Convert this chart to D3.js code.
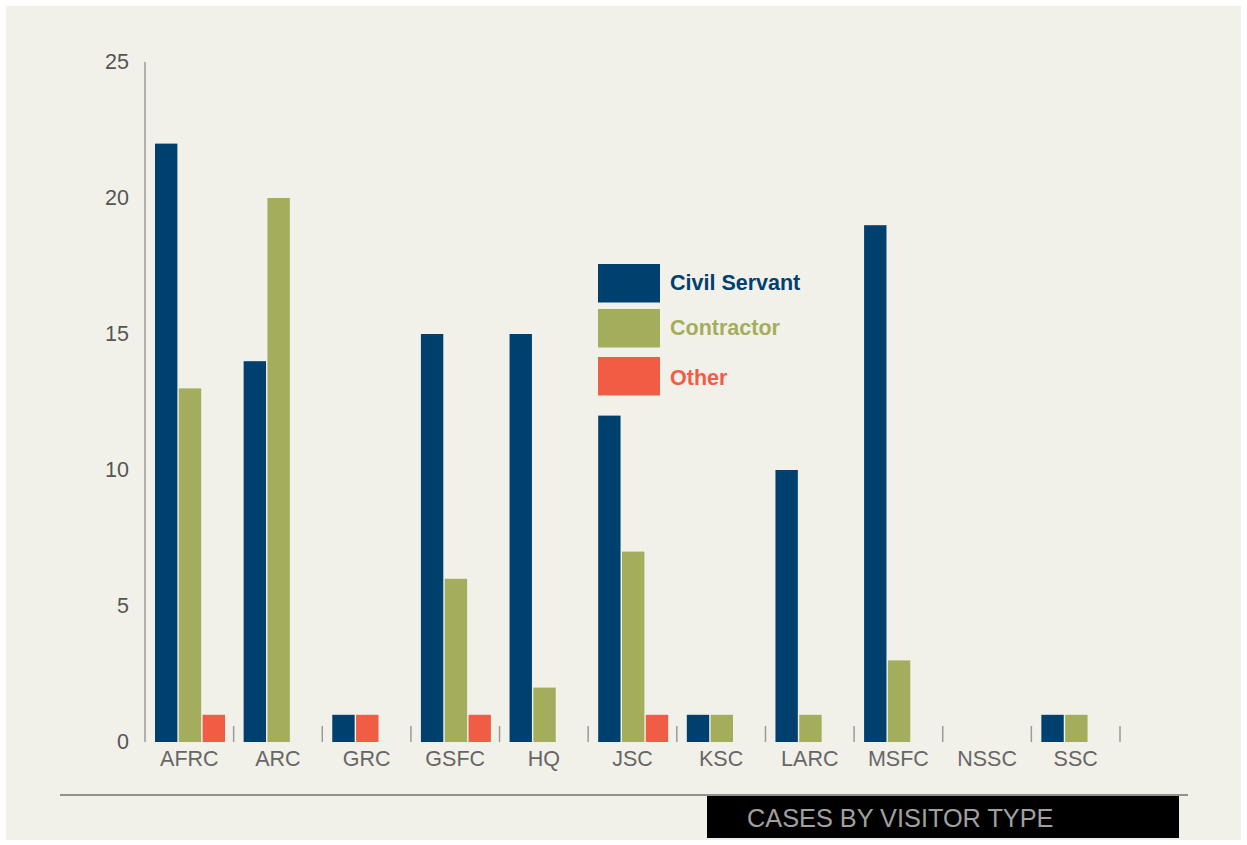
<!DOCTYPE html>
<html>
<head>
<meta charset="utf-8">
<script src="https://cdn.jsdelivr.net/npm/d3@7"></script>
<style>
  body { margin: 0; background: #ffffff; }
  text { font-family: "Liberation Sans", Arial, Helvetica, sans-serif; }
</style>
</head>
<body>
<div id="chart"></div>
<script>
//data
var centers = ["AFRC", "ARC", "GRC", "GSFC", "HQ", "JSC", "KSC", "LARC", "MSFC", "NSSC", "SSC"];
var civilServant = [22, 14, 1, 15, 15, 12, 1, 10, 19, 0, 1];
var contractor = [13, 20, 0, 6, 2, 7, 1, 1, 3, 0, 1];
var other = [1, 0, 1, 1, 0, 1, 0, 0, 0, 0, 0];
var seriesNames = ["Civil Servant", "Contractor", "Other"];
var yTicks = [0, 5, 10, 15, 20, 25];
var title = "CASES BY VISITOR TYPE";

var colors = ["#00406f", "#a4ad5c", "#f15d44"];
var width = 1247, height = 845;

var svg = d3.select("#chart")
  .append("svg")
  .attr("width", width)
  .attr("height", height);

//beige panel with a thin white edge
svg.append("rect")
  .attr("x", 6).attr("y", 6)
  .attr("width", width - 12).attr("height", height - 11)
  .attr("fill", "#f2f1e9");

var x = d3.scaleBand()
  .domain(centers)
  .range([145, 1120])
  .padding(0);

//bars inside a group are packed, empty ones are skipped
var slot = d3.scaleBand()
  .domain([0, 1, 2])
  .range([10, 80])
  .paddingInner(0.06);

var y = d3.scaleLinear()
  .domain([0, 25])
  .range([742, 62]);

var series = [civilServant, contractor, other];
var bars = [];
centers.forEach(function(c, i) {
  var k = 0;
  series.forEach(function(s, j) {
    if (s[i] > 0) {
      bars.push({ center: c, value: s[i], type: j, slot: k });
      k++;
    }
  });
});

svg.selectAll("rect.bar")
  .data(bars)
  .enter()
  .append("rect")
  .attr("class", "bar")
  .attr("x", function(d) { return x(d.center) + slot(d.slot); })
  .attr("width", slot.bandwidth())
  .attr("y", function(d) { return y(d.value); })
  .attr("height", function(d) { return y(0) - y(d.value); })
  .attr("fill", function(d) { return colors[d.type]; });

//y-axis line and labels
svg.append("line")
  .attr("x1", 145).attr("x2", 145)
  .attr("y1", y(25)).attr("y2", y(0))
  .attr("stroke", "#9a9a9a")
  .attr("stroke-width", 1.5);

svg.selectAll("text.ytick")
  .data(yTicks)
  .enter()
  .append("text")
  .attr("class", "ytick")
  .attr("x", 129)
  .attr("y", function(d) { return y(d) - 1; })
  .attr("dy", "0.35em")
  .attr("text-anchor", "end")
  .attr("font-size", 21.5)
  .attr("fill", "#555")
  .text(function(d) { return d; });

//small separators between the groups
svg.selectAll("line.sep")
  .data(centers)
  .enter()
  .append("line")
  .attr("class", "sep")
  .attr("x1", function(d) { return x(d) + x.bandwidth(); })
  .attr("x2", function(d) { return x(d) + x.bandwidth(); })
  .attr("y1", 726).attr("y2", 742)
  .attr("stroke", "#9a9a9a")
  .attr("stroke-width", 1.5);

svg.selectAll("text.xlabel")
  .data(centers)
  .enter()
  .append("text")
  .attr("class", "xlabel")
  .attr("x", function(d) { return x(d) + x.bandwidth() / 2; })
  .attr("y", 766)
  .attr("text-anchor", "middle")
  .attr("font-size", 21.5)
  .attr("fill", "#666")
  .text(function(d) { return d; });

//legend
var legend = svg.selectAll("g.legend")
  .data(seriesNames)
  .enter()
  .append("g")
  .attr("class", "legend")
  .attr("transform", function(d, i) { return "translate(598," + [264, 309, 357][i] + ")"; });

legend.append("rect")
  .attr("width", 62)
  .attr("height", 38.5)
  .attr("fill", function(d, i) { return colors[i]; });

legend.append("text")
  .attr("x", 72)
  .attr("y", function(d, i) { return i == 2 ? 28 : 26; })
  .attr("font-size", 21.5)
  .attr("font-weight", "bold")
  .attr("fill", function(d, i) { return colors[i]; })
  .text(function(d) { return d; });

//footer rule and title box
svg.append("line")
  .attr("x1", 60).attr("x2", 1188)
  .attr("y1", 795).attr("y2", 795)
  .attr("stroke", "#707070")
  .attr("stroke-width", 1.5);

svg.append("rect")
  .attr("x", 707).attr("y", 796)
  .attr("width", 472).attr("height", 42)
  .attr("fill", "#000");

svg.append("text")
  .attr("x", 747)
  .attr("y", 827)
  .attr("font-size", 25.3)
  .attr("fill", "#a0a0a0")
  .text(title);
</script>
</body>
</html>
